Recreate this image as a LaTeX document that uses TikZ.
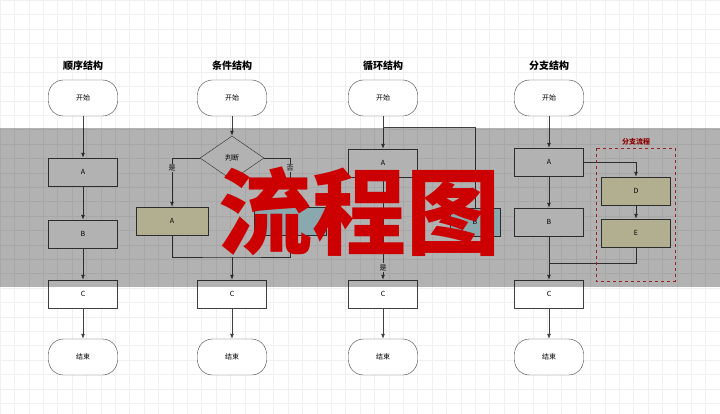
\documentclass[tikz,border=0pt]{standalone}
\usepackage{fontspec}
\setmainfont{Noto Sans CJK SC}
\usetikzlibrary{shapes.geometric,arrows.meta}
\definecolor{tanfill}{HTML}{FFFCCF}
\definecolor{tealfill}{HTML}{C5F3FB}
\definecolor{redmark}{HTML}{CC0000}
\tikzset{
  box/.style={draw=black!75,fill=white,minimum width=69pt,minimum height=28pt,inner sep=0pt,font=\fontsize{7}{8}\selectfont},
  term/.style={box,rounded corners=15pt,minimum height=36pt},
  cond/.style={draw=black!75,fill=white,diamond,minimum width=64pt,minimum height=44pt,inner sep=0pt,font=\fontsize{7}{8}\selectfont},
  title/.style={font=\bfseries\fontsize{10}{12}\selectfont},
  lbl/.style={font=\fontsize{7}{8}\selectfont},
  flow/.style={draw=black!75,thick,-{Latex[length=5pt,width=4pt]}},
  line/.style={draw=black!75,thick}
}
\begin{document}
\begin{tikzpicture}[x=1pt,y=-1pt]
\useasboundingbox (0,0) rectangle (720,414);
\fill[white] (0,0) rectangle (720,414);
\draw[black!6,step=14.4pt] (0,0) grid (720,414);
% sequence
\node[title] at (83,66) {顺序结构};
\node[term] (s1) at (83,98) {开始};
\node[box] (a1) at (83,172) {A};
\node[box] (b1) at (83,234) {B};
\node[box] (c1) at (83,294) {C};
\node[term] (e1) at (83,357) {结束};
\draw[flow] (s1) -- (a1);
\draw[flow] (a1) -- (b1);
\draw[flow] (b1) -- (c1);
\draw[flow] (c1) -- (e1);
% condition
\node[title] at (232,66) {条件结构};
\node[term] (s2) at (232,98) {开始};
\node[cond] (d2) at (232,158) {判断};
\node[box,fill=tanfill,minimum width=72pt] (a2) at (172,221) {A};
\node[box,fill=tealfill,minimum width=72pt] (b2) at (290,221) {B};
\node[box] (c2) at (232,294) {C};
\node[term] (e2) at (232,357) {结束};
\coordinate (m2) at (232,257);
\draw[flow] (s2) -- (d2);
\draw[flow] (d2.west) -| node[lbl,pos=0.6,fill=white,inner sep=1pt] {是} (a2.north);
\draw[flow] (d2.east) -| node[lbl,pos=0.6,fill=white,inner sep=1pt] {否} (b2.north);
\draw[line] (a2.south) |- (m2) -| (b2.south);
\draw[flow] (m2) -- (c2);
\draw[flow] (c2) -- (e2);
% loop
\node[title] at (383,66) {循环结构};
\node[term] (s3) at (383,98) {开始};
\node[box] (a3) at (383,163) {A};
\node[box,fill=tealfill,minimum width=50pt] (b3) at (475,222) {B};
\node[box] (c3) at (383,294) {C};
\node[term] (e3) at (383,357) {结束};
\coordinate (t3) at (383,127);
\draw[line] (s3) -- (t3);
\draw[flow] (t3) -- (a3);
\draw[line] (b3.north) |- (t3);
\draw[flow] (a3) -- node[lbl,pos=0.88,fill=white,inner sep=1pt] {是} (c3);
\draw[flow] (c3) -- (e3);
% branch
\node[title] at (549,66) {分支结构};
\node[term] (s4) at (549,98) {开始};
\node[box] (a4) at (549,162) {A};
\node[box] (b4) at (549,222) {B};
\node[box,fill=tanfill] (d4) at (636,191) {D};
\node[box,fill=tanfill] (f4) at (636,233) {E};
\node[box] (c4) at (549,294) {C};
\node[term] (e4) at (549,357) {结束};
\coordinate (m4) at (549,263);
\draw[flow] (s4) -- (a4);
\draw[flow] (a4) -- (b4);
\draw[flow] (a4.east) -| (d4.north);
\draw[flow] (d4) -- (f4);
\draw[line] (b4) -- (m4);
\draw[line] (f4.south) |- (m4);
\draw[flow] (m4) -- (c4);
\draw[flow] (c4) -- (e4);
\draw[redmark!80,thick,dashed] (596,148) rectangle (675,281);
\node[lbl,text=redmark,font=\bfseries\fontsize{7}{8}\selectfont] at (636,142) {分支流程};
% band and headline
\fill[black,opacity=0.3] (0,128) rectangle (720,287);
\node[text=redmark,font=\bfseries\fontsize{94}{100}\selectfont] at (359,212) {流程图};
\end{tikzpicture}
\end{document}
